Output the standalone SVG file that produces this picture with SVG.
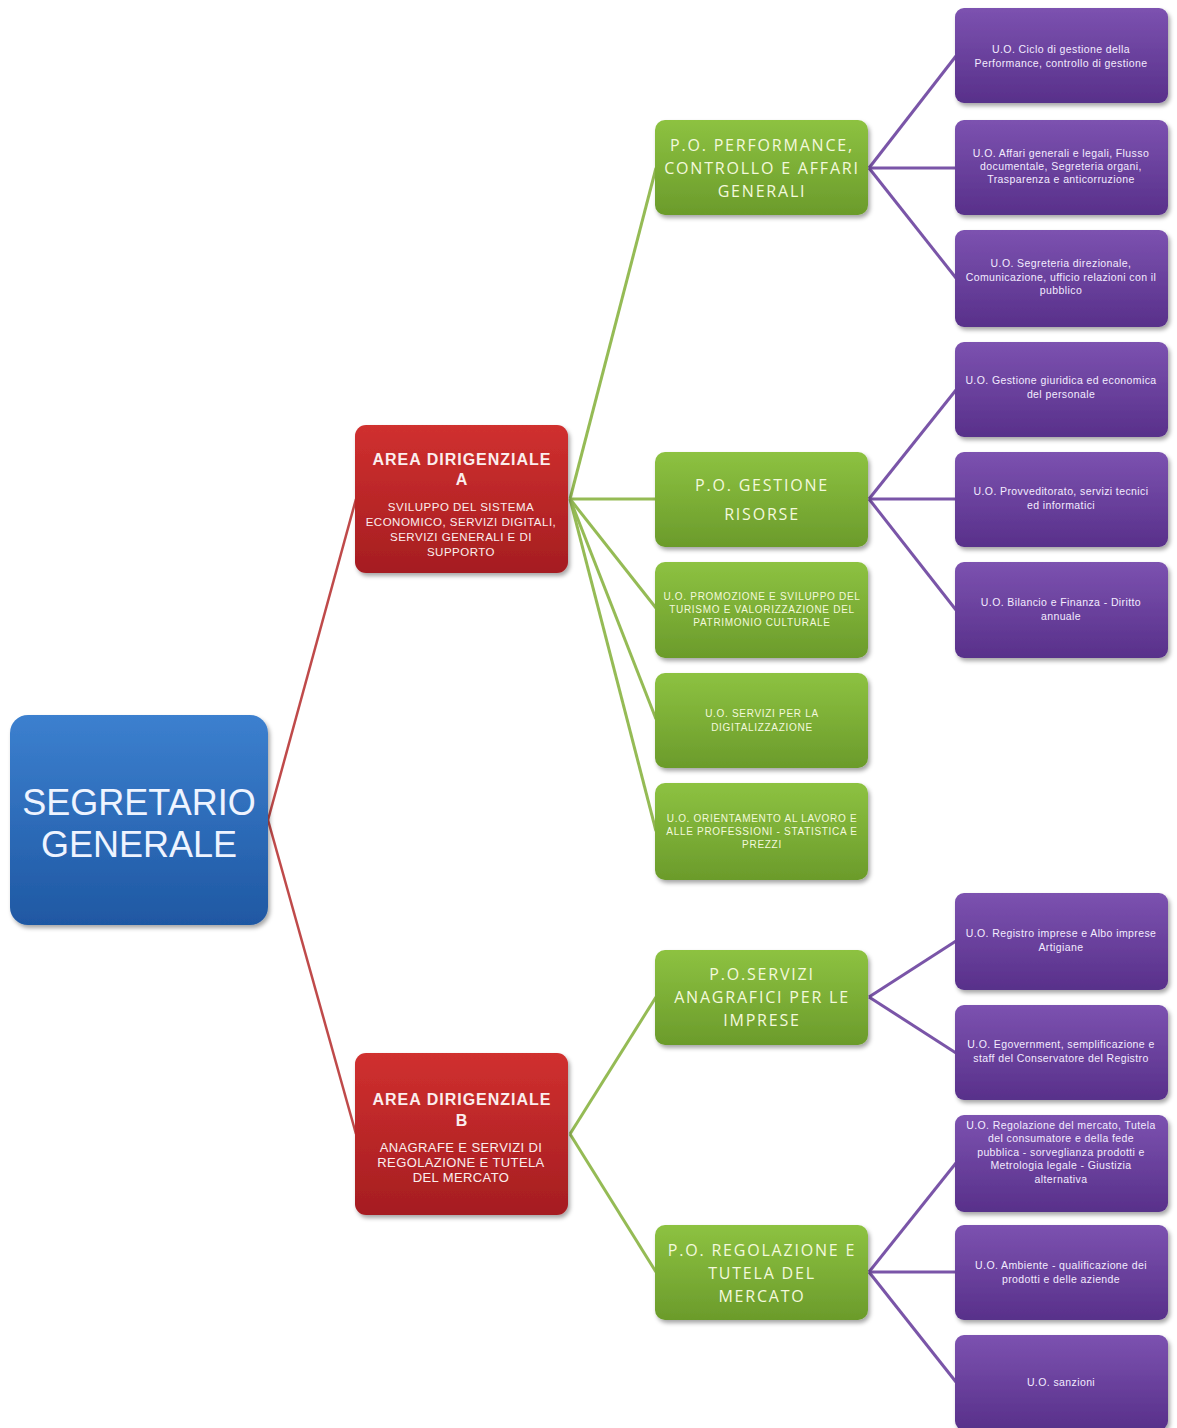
<svg xmlns="http://www.w3.org/2000/svg" width="1177" height="1428" viewBox="0 0 1177 1428">
<defs>
<linearGradient id="gBlue" x1="0" y1="0" x2="0" y2="1"><stop offset="0" stop-color="#3c80cf"/><stop offset="1" stop-color="#1f58a3"/></linearGradient>
<linearGradient id="gRed" x1="0" y1="0" x2="0" y2="1"><stop offset="0" stop-color="#d0302f"/><stop offset="1" stop-color="#a51d21"/></linearGradient>
<linearGradient id="gGreen" x1="0" y1="0" x2="0" y2="1"><stop offset="0" stop-color="#8dc241"/><stop offset="1" stop-color="#6b9b2b"/></linearGradient>
<linearGradient id="gPurple" x1="0" y1="0" x2="0" y2="1"><stop offset="0" stop-color="#7c52b0"/><stop offset="1" stop-color="#58308a"/></linearGradient>
<filter id="sh" x="-10%" y="-10%" width="125%" height="130%"><feDropShadow dx="2" dy="3" stdDeviation="2" flood-color="#000" flood-opacity="0.35"/></filter>
</defs>
<style>
.box{filter:url(#sh)}
.blue{fill:url(#gBlue)}
.red{fill:url(#gRed)}
.green{fill:url(#gGreen)}
.purple{fill:url(#gPurple)}
text{font-family:"Open Sans","Liberation Sans",sans-serif;text-anchor:middle}
.tb{font-family:"Liberation Sans",sans-serif;font-size:36px;fill:#eef4ff}
.th{font-family:"Liberation Sans",sans-serif;font-size:16px;font-weight:bold;fill:#fbeeee;letter-spacing:1px}
.tr{font-family:"Liberation Sans",sans-serif;font-size:11.5px;fill:#fbeeee;letter-spacing:0.5px}
.tr2{font-family:"Liberation Sans",sans-serif;font-size:13px;fill:#fbeeee;letter-spacing:0.4px}
.tg{font-size:16px;fill:#f3f9dc;letter-spacing:1.8px}
.tgs{font-family:"Liberation Sans",sans-serif;font-size:10px;fill:#f3f9dc;letter-spacing:0.7px}
.tp{font-family:"Liberation Sans",sans-serif;font-size:10.5px;fill:#f3ecff;letter-spacing:0.4px}
.cr{stroke:#bf4a4a;stroke-width:2.5;fill:none}
.cg{stroke:#95bb55;stroke-width:3;fill:none}
.cp{stroke:#7a55a8;stroke-width:3;fill:none}
</style>
<rect width="1177" height="1428" fill="#ffffff"/>
<g id="connectors">
<line class="cr" x1="268" y1="820" x2="356" y2="499"/>
<line class="cr" x1="268" y1="820" x2="356" y2="1134"/>
<line class="cg" x1="570" y1="499" x2="656" y2="168"/>
<line class="cg" x1="570" y1="499" x2="656" y2="499"/>
<line class="cg" x1="570" y1="499" x2="656" y2="608"/>
<line class="cg" x1="570" y1="499" x2="656" y2="719"/>
<line class="cg" x1="570" y1="499" x2="656" y2="831"/>
<line class="cg" x1="570" y1="1134" x2="656" y2="997"/>
<line class="cg" x1="570" y1="1134" x2="656" y2="1272"/>
<line class="cp" x1="869" y1="168" x2="956" y2="56"/>
<line class="cp" x1="869" y1="168" x2="956" y2="168"/>
<line class="cp" x1="869" y1="168" x2="956" y2="278"/>
<line class="cp" x1="869" y1="499" x2="956" y2="390"/>
<line class="cp" x1="869" y1="499" x2="956" y2="499"/>
<line class="cp" x1="869" y1="499" x2="956" y2="610"/>
<line class="cp" x1="869" y1="997" x2="956" y2="941"/>
<line class="cp" x1="869" y1="997" x2="956" y2="1053"/>
<line class="cp" x1="869" y1="1272" x2="956" y2="1163"/>
<line class="cp" x1="869" y1="1272" x2="956" y2="1272"/>
<line class="cp" x1="869" y1="1272" x2="956" y2="1382"/>
</g>
<g id="segretario">
<rect class="box blue" x="10" y="715" width="258" height="210" rx="18"/>
<text class="tb" x="139" y="815">SEGRETARIO</text>
<text class="tb" x="139" y="857">GENERALE</text>
</g>
<g id="areaA">
<rect class="box red" x="355" y="425" width="213" height="148" rx="11"/>
<text class="th" x="462" y="465">AREA DIRIGENZIALE</text>
<text class="th" x="462" y="485">A</text>
<text class="tr" x="461" y="511">SVILUPPO DEL SISTEMA</text>
<text class="tr" x="461" y="526">ECONOMICO, SERVIZI DIGITALI,</text>
<text class="tr" x="461" y="541">SERVIZI GENERALI E DI</text>
<text class="tr" x="461" y="556">SUPPORTO</text>
</g>
<g id="areaB">
<rect class="box red" x="355" y="1053" width="213" height="162" rx="11"/>
<text class="th" x="462" y="1105">AREA DIRIGENZIALE</text>
<text class="th" x="462" y="1126">B</text>
<text class="tr2" x="461" y="1152">ANAGRAFE E SERVIZI DI</text>
<text class="tr2" x="461" y="1167">REGOLAZIONE E TUTELA</text>
<text class="tr2" x="461" y="1182">DEL MERCATO</text>
</g>
<g id="po-performance">
<rect class="box green" x="655" y="120" width="213" height="95" rx="10"/>
<text class="tg" x="762" y="151">P.O. PERFORMANCE,</text>
<text class="tg" x="762" y="174">CONTROLLO E AFFARI</text>
<text class="tg" x="762" y="197">GENERALI</text>
</g>
<g id="po-gestione">
<rect class="box green" x="655" y="452" width="213" height="95" rx="10"/>
<text class="tg" x="762" y="491">P.O. GESTIONE</text>
<text class="tg" x="762" y="520">RISORSE</text>
</g>
<g id="uo-promozione">
<rect class="box green" x="655" y="562" width="213" height="96" rx="10"/>
<text class="tgs" x="762" y="600">U.O. PROMOZIONE E SVILUPPO DEL</text>
<text class="tgs" x="762" y="613">TURISMO E VALORIZZAZIONE DEL</text>
<text class="tgs" x="762" y="626">PATRIMONIO CULTURALE</text>
</g>
<g id="uo-digitalizzazione">
<rect class="box green" x="655" y="673" width="213" height="95" rx="10"/>
<text class="tgs" x="762" y="717">U.O. SERVIZI PER LA</text>
<text class="tgs" x="762" y="731">DIGITALIZZAZIONE</text>
</g>
<g id="uo-orientamento">
<rect class="box green" x="655" y="783" width="213" height="97" rx="10"/>
<text class="tgs" x="762" y="822">U.O. ORIENTAMENTO AL LAVORO E</text>
<text class="tgs" x="762" y="835">ALLE PROFESSIONI - STATISTICA E</text>
<text class="tgs" x="762" y="848">PREZZI</text>
</g>
<g id="po-anagrafici">
<rect class="box green" x="655" y="950" width="213" height="95" rx="10"/>
<text class="tg" x="762" y="980">P.O.SERVIZI</text>
<text class="tg" x="762" y="1003">ANAGRAFICI PER LE</text>
<text class="tg" x="762" y="1026">IMPRESE</text>
</g>
<g id="po-regolazione">
<rect class="box green" x="655" y="1225" width="213" height="95" rx="10"/>
<text class="tg" x="762" y="1256">P.O. REGOLAZIONE E</text>
<text class="tg" x="762" y="1279">TUTELA DEL</text>
<text class="tg" x="762" y="1302">MERCATO</text>
</g>
<g id="uo-ciclo">
<rect class="box purple" x="955" y="8" width="213" height="95" rx="9"/>
<text class="tp" x="1061" y="53">U.O. Ciclo di gestione della</text>
<text class="tp" x="1061" y="67">Performance, controllo di gestione</text>
</g>
<g id="uo-affari">
<rect class="box purple" x="955" y="120" width="213" height="95" rx="9"/>
<text class="tp" x="1061" y="157">U.O. Affari generali e legali, Flusso</text>
<text class="tp" x="1061" y="170">documentale, Segreteria organi,</text>
<text class="tp" x="1061" y="183">Trasparenza e anticorruzione</text>
</g>
<g id="uo-segreteria">
<rect class="box purple" x="955" y="230" width="213" height="97" rx="9"/>
<text class="tp" x="1061" y="267">U.O. Segreteria direzionale,</text>
<text class="tp" x="1061" y="281">Comunicazione, ufficio relazioni con il</text>
<text class="tp" x="1061" y="294">pubblico</text>
</g>
<g id="uo-personale">
<rect class="box purple" x="955" y="342" width="213" height="95" rx="9"/>
<text class="tp" x="1061" y="384">U.O. Gestione giuridica ed economica</text>
<text class="tp" x="1061" y="398">del personale</text>
</g>
<g id="uo-provveditorato">
<rect class="box purple" x="955" y="452" width="213" height="95" rx="9"/>
<text class="tp" x="1061" y="495">U.O. Provveditorato, servizi tecnici</text>
<text class="tp" x="1061" y="509">ed informatici</text>
</g>
<g id="uo-bilancio">
<rect class="box purple" x="955" y="562" width="213" height="96" rx="9"/>
<text class="tp" x="1061" y="606">U.O. Bilancio e Finanza - Diritto</text>
<text class="tp" x="1061" y="620">annuale</text>
</g>
<g id="uo-registro">
<rect class="box purple" x="955" y="893" width="213" height="97" rx="9"/>
<text class="tp" x="1061" y="937">U.O. Registro imprese e Albo imprese</text>
<text class="tp" x="1061" y="951">Artigiane</text>
</g>
<g id="uo-egovernment">
<rect class="box purple" x="955" y="1005" width="213" height="95" rx="9"/>
<text class="tp" x="1061" y="1048">U.O. Egovernment, semplificazione e</text>
<text class="tp" x="1061" y="1062">staff del Conservatore del Registro</text>
</g>
<g id="uo-regolazione">
<rect class="box purple" x="955" y="1115" width="213" height="97" rx="9"/>
<text class="tp" x="1061" y="1129">U.O. Regolazione del mercato, Tutela</text>
<text class="tp" x="1061" y="1142">del consumatore e della fede</text>
<text class="tp" x="1061" y="1156">pubblica - sorveglianza prodotti e</text>
<text class="tp" x="1061" y="1169">Metrologia legale - Giustizia</text>
<text class="tp" x="1061" y="1183">alternativa</text>
</g>
<g id="uo-ambiente">
<rect class="box purple" x="955" y="1225" width="213" height="95" rx="9"/>
<text class="tp" x="1061" y="1269">U.O. Ambiente - qualificazione dei</text>
<text class="tp" x="1061" y="1283">prodotti e delle aziende</text>
</g>
<g id="uo-sanzioni">
<rect class="box purple" x="955" y="1335" width="213" height="95" rx="9"/>
<text class="tp" x="1061" y="1386">U.O. sanzioni</text>
</g>
</svg>
